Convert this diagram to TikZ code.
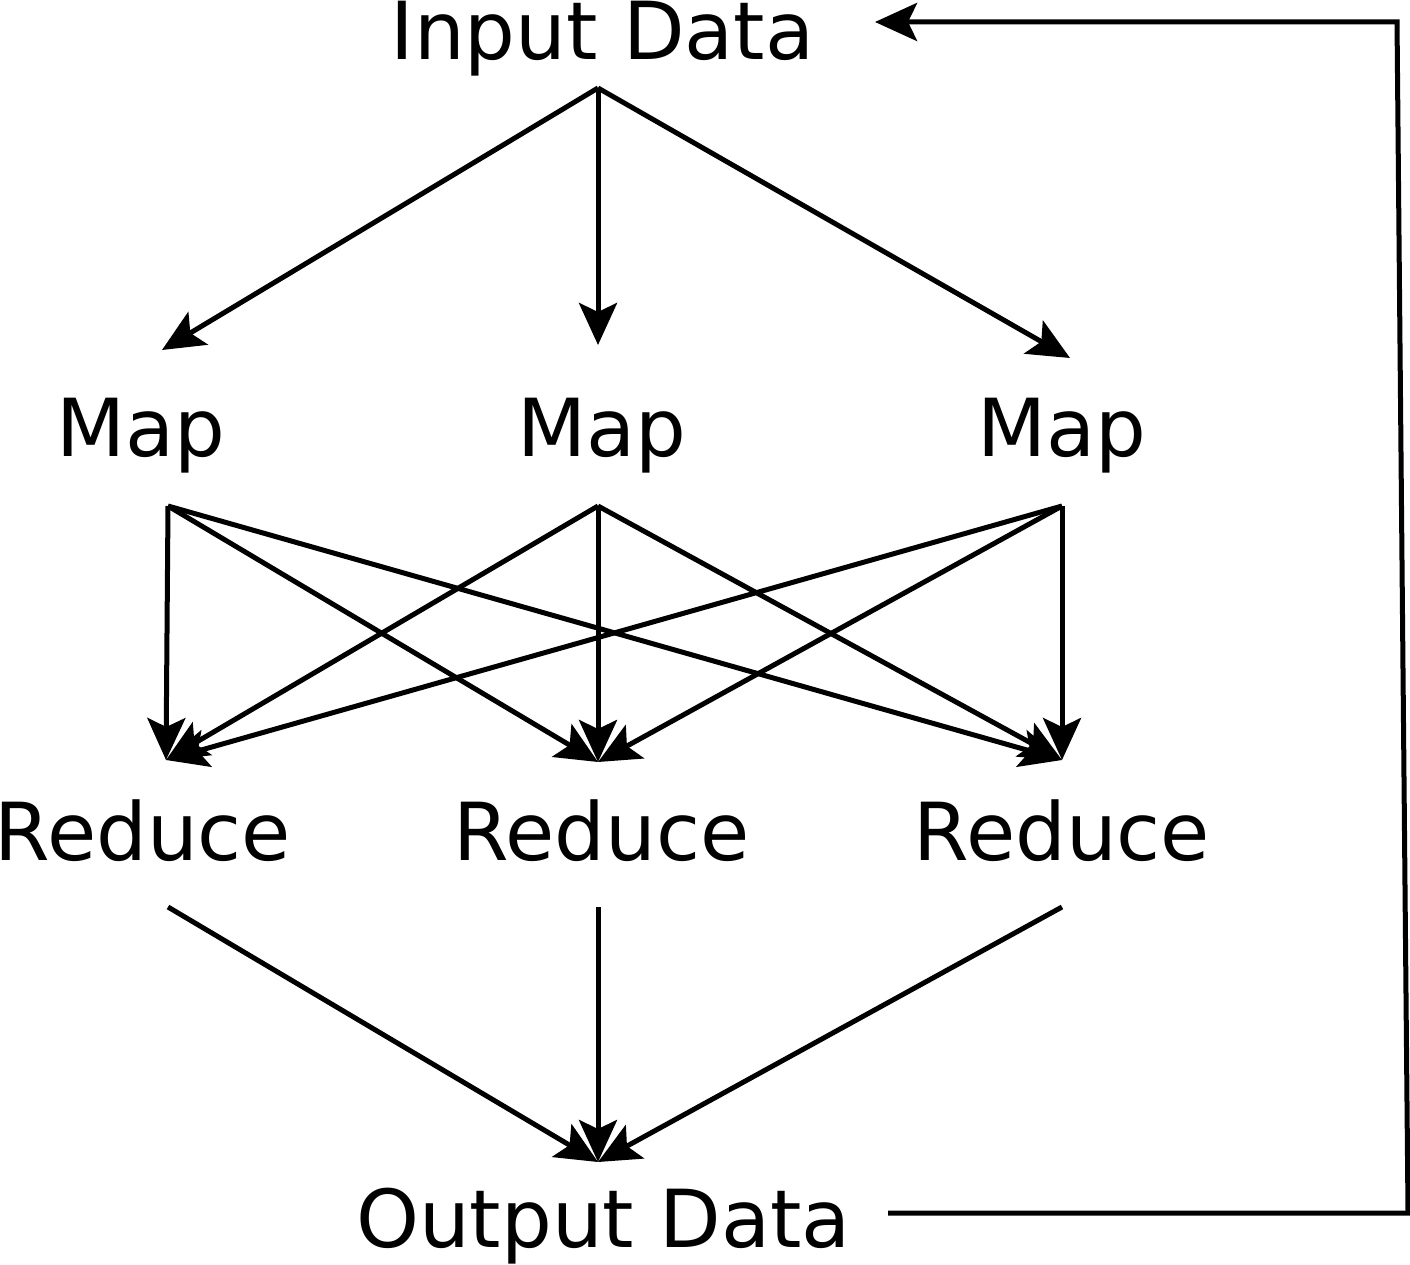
\documentclass[tikz,border=0pt]{standalone}
\usepackage{fontspec}
\setmainfont{DejaVu Sans}
\usetikzlibrary{arrows.meta}
\begin{document}
\begin{tikzpicture}[x=0.01cm,y=-0.01cm,
  lbl/.style={anchor=base,inner sep=0pt,font=\fontsize{22.76}{27}\selectfont},
  conn/.style={line width=0.05cm,-{Stealth[length=0.42cm,width=0.38cm,inset=0.09cm]}},
  plain/.style={line width=0.05cm}]
\useasboundingbox (0,0) rectangle (1410,1264);
% text nodes
\node[lbl] (in) at (602.5,60) {Input Data};
\node[lbl] (m1) at (141,456) {Map};
\node[lbl] (m2) at (601.5,456) {Map};
\node[lbl] (m3) at (1061.5,456) {Map};
\node[lbl] (r1) at (143,860) {Reduce};
\node[lbl] (r2) at (601.5,860) {Reduce};
\node[lbl] (r3) at (1062,860) {Reduce};
\node[lbl] (out) at (603.5,1247) {Output Data};
% ports
\coordinate (inS) at (598,88);
\coordinate (inE) at (875,22);
\coordinate (m1N) at (162,350);
\coordinate (m2N) at (598,345);
\coordinate (m3N) at (1070,358);
\coordinate (m1S) at (168,506);
\coordinate (m2S) at (598,506);
\coordinate (m3S) at (1062,506);
\coordinate (r1N) at (166,760);
\coordinate (r2N) at (598,762);
\coordinate (r3N) at (1062,760);
\coordinate (r1S) at (168,907);
\coordinate (r2S) at (598,907);
\coordinate (r3S) at (1062,907);
\coordinate (outN) at (598,1162);
\coordinate (outE) at (888,1213);
\coordinate (c1) at (1408,1213);
\coordinate (c2) at (1397,22);
% input to maps
\draw[conn] (inS) -- (m1N);
\draw[conn] (inS) -- (m2N);
\draw[conn] (inS) -- (m3N);
% maps to reduces
\foreach \m in {m1S,m2S,m3S}{
  \foreach \r in {r1N,r2N,r3N}{
    \draw[conn] (\m) -- (\r);
  }
}
% reduces to output
\draw[conn] (r1S) -- (outN);
\draw[conn] (r2S) -- (outN);
\draw[conn] (r3S) -- (outN);
% feedback
\draw[conn] (outE) -- (c1) -- (c2) -- (inE);
\end{tikzpicture}
\end{document}
